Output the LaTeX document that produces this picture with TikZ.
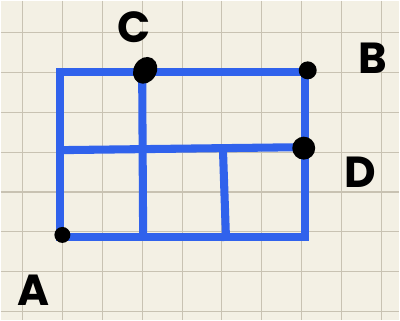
\documentclass[tikz,border=0pt]{standalone}
\usepackage{fontspec}
\usetikzlibrary{shapes.geometric}
\newfontfamily\handfont{Poppins}

\definecolor{paper}{RGB}{243,240,228}
\definecolor{gridgray}{RGB}{200,194,178}
\definecolor{wallblue}{RGB}{48,98,236}

\begin{document}
\begin{tikzpicture}[x=0.05cm, y=-0.05cm,
        gridline/.style={draw=gridgray, line width=1.5pt},
        wall/.style={draw=wallblue, line width=11.5pt, line cap=rect},
        dot/.style={fill=black, circle, inner sep=0pt},
        letter/.style={font=\handfont\bfseries\fontsize{62}{62}\selectfont, inner sep=0pt}]
                % paper
                \fill [paper] (0,0) rectangle (400,320);
                \foreach \x in {22,62,...,382}
                        \draw [gridline] (\x,0) -- (\x,320);
                \foreach \y in {32,72,...,312}
                        \draw [gridline] (0,\y) -- (400,\y);
                \useasboundingbox (0,0) rectangle (400,320);

                \coordinate (tl) at (60,72);
                \coordinate (tr) at (305,72);
                \coordinate (br) at (305,237);
                \coordinate (bl) at (60,237);
                \coordinate (ml) at (60,150);
                \coordinate (mr) at (305,147);
                \coordinate (ct) at (142,72);
                \coordinate (cb) at (143,237);
                \coordinate (mt) at (223,149);
                \coordinate (mb) at (226,237);

                \draw [wall] (tl) -- (tr) -- (br) -- (bl) -- cycle;
                \draw [wall] (ml) -- (mr);
                \draw [wall] (ct) -- (cb);
                \draw [wall] (mt) -- (mb);

                \node (ptA) [dot, minimum size=0.8cm] at (62,235) {};
                \node (ptC) [dot, ellipse, minimum width=1.15cm, minimum height=1.4cm, rotate=-30] at (145,70) {};
                \node (ptB) [dot, minimum size=0.9cm] at (308,70) {};
                \node (ptD) [dot, minimum size=1.15cm] at (304,148) {};

                \node (labA) [letter] at (33,290) {A};
                \node (labB) [letter] at (373,58) {B};
                \node (labC) [letter] at (134,27) {C};
                \node (labD) [letter] at (361,172) {D};
\end{tikzpicture}
\end{document}
